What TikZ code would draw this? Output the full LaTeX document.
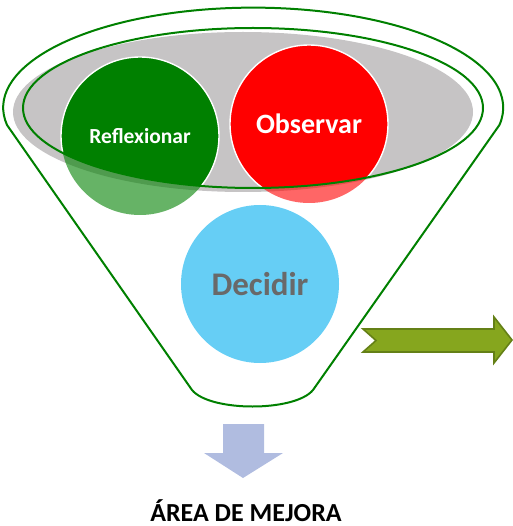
\documentclass[tikz,border=0pt]{standalone}
\usepackage{fontspec}
\setmainfont{Carlito}
\usepackage{tikz}

\definecolor{funnelgreen}{RGB}{0,128,0}
\definecolor{reflcol}{RGB}{0,128,0}
\definecolor{obscol}{RGB}{255,0,0}
\definecolor{deccol}{RGB}{102,206,245}
\definecolor{traygray}{RGB}{198,196,197}
\definecolor{olivefill}{RGB}{134,166,30}
\definecolor{olivedraw}{RGB}{100,128,22}
\definecolor{lavender}{RGB}{176,188,224}
\definecolor{textgray}{RGB}{105,105,105}

\begin{document}
\begin{tikzpicture}[x=1pt,y=-1pt,
        outline/.style={draw=funnelgreen,line width=2pt},
        disc/.style={circle,minimum size=158pt,inner sep=0pt,draw=white,line width=1.4pt,text=white,font=\bfseries},
        faded/.style={opacity=.6}]

    \useasboundingbox (0,0) rectangle (512,526);

    \coordinate (cRefl) at (140,136);
    \coordinate (cObs) at (309,124);
    \coordinate (cTray) at (253,108);

    % gray tray
    \fill[traygray] (243,112) ellipse[x radius=230pt,y radius=80pt];

    % lower halves of the balls
    \fill[reflcol,faded] (cRefl) circle (79pt);
    \fill[obscol,faded] (cObs) circle (79pt);

    \begin{scope}
        \clip (cTray) ellipse[x radius=230pt,y radius=80pt];
        \node[disc,fill=reflcol,font=\bfseries\fontsize{21.5}{23}\selectfont] (refl) at (cRefl) {Reflexionar};
        \node[disc,fill=obscol,font=\bfseries\fontsize{28}{30}\selectfont] (obs) at (cObs) {Observar};
    \end{scope}

    \draw[outline] (cTray) ellipse[x radius=230pt,y radius=80pt];

    % funnel
    \draw[outline,line join=round] (7,125) arc[start angle=190,end angle=-10,x radius=250pt,y radius=100pt]
        -- (313,390) .. controls (295,412) and (210,412) .. (192,390) -- cycle;

    \node[disc,draw=none,fill=deccol,text=textgray,font=\bfseries\fontsize{33}{35}\selectfont] (dec) at (260,284) {Decidir};

    % arrows
    \filldraw[fill=olivefill,draw=olivedraw,line width=1.6pt,line join=miter]
        (363,329) -- (494,329) -- (494,317) -- (512,340) -- (494,363) -- (494,352) -- (363,352) -- (376,340.5) -- cycle;
    \fill[lavender] (223,424) -- (264,424) -- (264,453) -- (283,453) -- (243,478) -- (204,453) -- (223,453) -- cycle;

    \node[anchor=base,inner sep=0pt,font=\bfseries\fontsize{26}{28}\selectfont] (mejora) at (246,521) {ÁREA DE MEJORA};
\end{tikzpicture}
\end{document}
